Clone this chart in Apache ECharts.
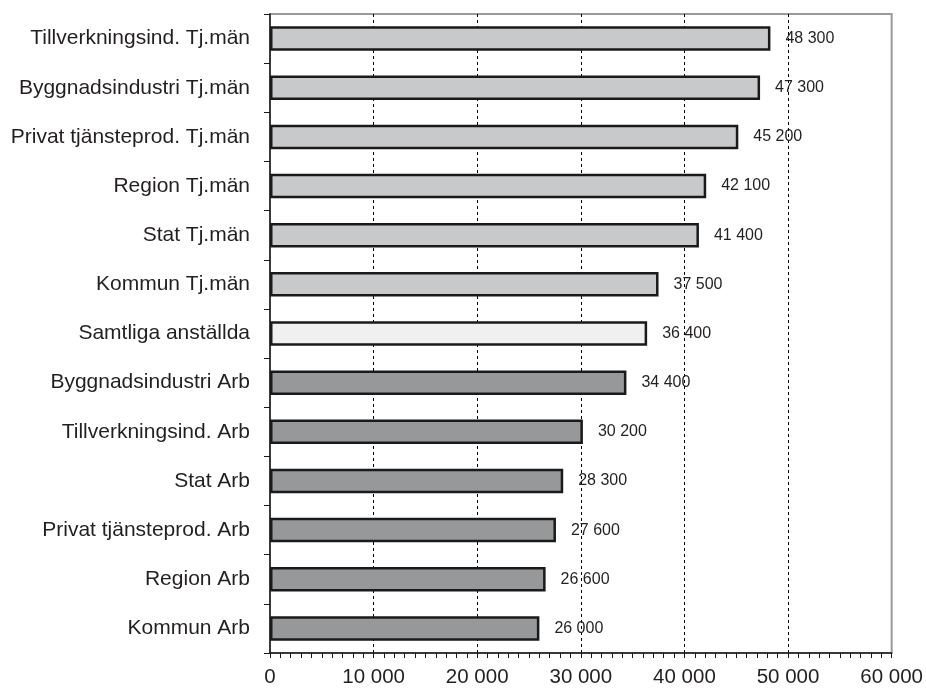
<!DOCTYPE html>
<html>
<head>
<meta charset="utf-8">
<script src="https://cdn.jsdelivr.net/npm/echarts@6/dist/echarts.min.js"></script>
<style>
html,body{margin:0;padding:0;background:#fff;}
#chart{width:926px;height:688px;}
</style>
</head>
<body>
<div id="chart"></div>
<script>
const categories = [
  'Tillverkningsind. Tj.män',
  'Byggnadsindustri Tj.män',
  'Privat tjänsteprod. Tj.män',
  'Region Tj.män',
  'Stat Tj.män',
  'Kommun Tj.män',
  'Samtliga anställda',
  'Byggnadsindustri Arb',
  'Tillverkningsind. Arb',
  'Stat Arb',
  'Privat tjänsteprod. Arb',
  'Region Arb',
  'Kommun Arb'
];
const values = [48300, 47300, 45200, 42100, 41400, 37500, 36400, 34400, 30200, 28300, 27600, 26600, 26000];
const groups = ['tj','tj','tj','tj','tj','tj','all','arb','arb','arb','arb','arb','arb'];
const xTicks = [0, 10000, 20000, 30000, 40000, 50000, 60000];

const groupColors = { tj: '#c8c9cb', all: '#f0f0f1', arb: '#97989a' };
const fmt = v => String(v).replace(/\B(?=(\d{3})+(?!\d))/g, ' ');
const FONT = 'Liberation Sans, Arial, sans-serif';
const TXT = '#231f20';

const chart = echarts.init(document.getElementById('chart'));
chart.setOption({
  animation: false,
  backgroundColor: '#fff',
  grid: { show: true, left: 270, right: 34, top: 14, bottom: 35, containLabel: false,
          borderColor: '#9a9a9a', borderWidth: 2, backgroundColor: 'transparent' },
  xAxis: {
    type: 'value',
    min: xTicks[0],
    max: xTicks[xTicks.length - 1],
    interval: xTicks[1] - xTicks[0],
    axisLine: { show: true, onZero: false, lineStyle: { color: '#1a1a1a', width: 1.5 } },
    axisTick: { show: true, length: 5, lineStyle: { color: '#1a1a1a', width: 1 } },
    minorTick: { show: true, splitNumber: 10, length: 5, lineStyle: { color: '#1a1a1a', width: 1 } },
    splitLine: { show: true, showMinLine: false, showMaxLine: false, lineStyle: { color: '#000', width: 1, type: [3, 3] } },
    axisLabel: { formatter: fmt, fontFamily: FONT, fontSize: 20.5, color: TXT, margin: 14 }
  },
  yAxis: {
    type: 'category',
    data: categories,
    inverse: true,
    axisLine: { show: true, lineStyle: { color: '#1a1a1a', width: 1.5 } },
    axisTick: { show: true, inside: false, length: 6, lineStyle: { color: '#1a1a1a', width: 1 } },
    axisLabel: { fontFamily: FONT, fontSize: 21, color: TXT, margin: 20 },
    splitLine: { show: false }
  },
  series: [{
    type: 'bar',
    barWidth: 24.5,
    data: values.map((v, i) => ({
      value: v,
      itemStyle: { color: groupColors[groups[i]], borderColor: '#1a1a1a', borderWidth: 2.5 }
    })),
    label: {
      show: true,
      position: 'right',
      distance: 15,
      formatter: p => fmt(p.value),
      fontFamily: FONT,
      fontSize: 16,
      color: TXT
    },
    z: 3
  }]
});
</script>
</body>
</html>
